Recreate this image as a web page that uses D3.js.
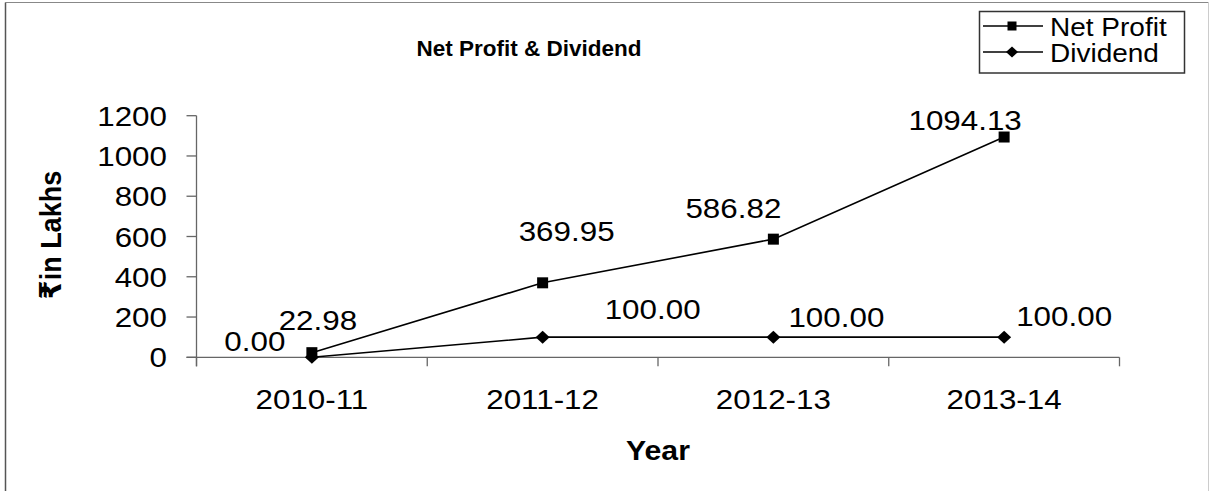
<!DOCTYPE html>
<html>
<head>
<meta charset="utf-8">
<script src="https://cdn.jsdelivr.net/npm/d3@7"></script>
<style>
  body { margin: 0; background: #fff; }
  text { font-family: "Liberation Sans", Arial, "DejaVu Sans", sans-serif; fill: #000; }
</style>
</head>
<body>
<div id="chart"></div>
<script>
// === DATA ===
const years = ["2010-11", "2011-12", "2012-13", "2013-14"];
const netProfit = [22.98, 369.95, 586.82, 1094.13];
const dividend = [0.00, 100.00, 100.00, 100.00];
const yTicks = [0, 200, 400, 600, 800, 1000, 1200];

// label offsets (px) from each point: [dx to label centre, dy to baseline]
const profitLabelOffsets = [[6, -23], [24, -42], [-40, -21], [-39, -7]];
const dividendLabelOffsets = [[-57, -6], [110, -18], [63, -10], [60, -11]];

const width = 1209, height = 491;
const sx = 1.12; // the picture is a little wider than tall

const svg = d3.select("#chart").append("svg")
  .attr("width", width)
  .attr("height", height);

svg.append("rect").attr("width", width).attr("height", height).attr("fill", "#fff");

// outer frame (no bottom edge visible)
svg.append("line").attr("x1", 5.5).attr("y1", 2.5).attr("x2", 5.5).attr("y2", height)
  .attr("stroke", "#555").attr("stroke-width", 1.5);
svg.append("line").attr("x1", 5).attr("y1", 2.5).attr("x2", 1208.5).attr("y2", 2.5)
  .attr("stroke", "#888").attr("stroke-width", 1);
svg.append("line").attr("x1", 1208.5).attr("y1", 2.5).attr("x2", 1208.5).attr("y2", height)
  .attr("stroke", "#ccc").attr("stroke-width", 1);

const plot = { left: 196.5, right: 1119.5, top: 115.7, bottom: 357.3 };

const x = d3.scaleBand().domain(years).range([plot.left, plot.right]).padding(0);
const y = d3.scaleLinear().domain([0, 1200]).range([plot.bottom, plot.top]);

function stretched(sel, tx, ty) {
  return sel.attr("transform", `translate(${tx},${ty}) scale(${sx},1)`);
}

// === AXES ===
const axisColor = "#666";

svg.append("line")
  .attr("x1", plot.left).attr("x2", plot.left)
  .attr("y1", y(1200)).attr("y2", plot.bottom + 9)
  .attr("stroke", axisColor).attr("stroke-width", 1.3);

svg.append("line")
  .attr("x1", plot.left - 10).attr("x2", plot.right)
  .attr("y1", plot.bottom).attr("y2", plot.bottom)
  .attr("stroke", axisColor).attr("stroke-width", 1.3);

yTicks.forEach(t => {
  svg.append("line")
    .attr("x1", plot.left - 10).attr("x2", plot.left)
    .attr("y1", y(t)).attr("y2", y(t))
    .attr("stroke", axisColor).attr("stroke-width", 1.3);
  stretched(svg.append("text"), 167, y(t) + 10)
    .attr("text-anchor", "end")
    .attr("font-size", 28)
    .text(t);
});

const bandEdges = years.map(d => x(d)).concat([plot.right]);
bandEdges.forEach(e => {
  svg.append("line")
    .attr("x1", e).attr("x2", e)
    .attr("y1", plot.bottom).attr("y2", plot.bottom + 9)
    .attr("stroke", axisColor).attr("stroke-width", 1.3);
});

years.forEach(d => {
  stretched(svg.append("text"), x(d) + x.bandwidth() / 2, 409)
    .attr("text-anchor", "middle")
    .attr("font-size", 28)
    .text(d);
});

// axis titles
stretched(svg.append("text"), (plot.left + plot.right) / 2, 460)
  .attr("text-anchor", "middle")
  .attr("font-size", 27)
  .attr("font-weight", "bold")
  .text("Year");

svg.append("text")
  .attr("transform", `translate(61,235) rotate(-90) scale(1,${sx})`)
  .attr("text-anchor", "middle")
  .attr("font-size", 27)
  .attr("font-weight", "bold")
  .text("₹in Lakhs");

// chart title
svg.append("text")
  .attr("x", 529).attr("y", 56)
  .attr("text-anchor", "middle")
  .attr("font-size", 22.5)
  .attr("font-weight", "bold")
  .text("Net Profit & Dividend");

// === SERIES ===
const cx = d => x(d) + x.bandwidth() / 2;
const line = d3.line().x(d => cx(d[0])).y(d => y(d[1]));

const profitPts = years.map((d, i) => [d, netProfit[i]]);
const divPts = years.map((d, i) => [d, dividend[i]]);

svg.append("path").datum(profitPts)
  .attr("fill", "none").attr("stroke", "#000").attr("stroke-width", 1.6)
  .attr("d", line);

svg.append("path").datum(divPts)
  .attr("fill", "none").attr("stroke", "#000").attr("stroke-width", 1.6)
  .attr("d", line);

svg.selectAll(".sq").data(profitPts).join("rect")
  .attr("class", "sq")
  .attr("x", d => cx(d[0]) - 5.5)
  .attr("y", d => y(d[1]) - 5.5)
  .attr("width", 11).attr("height", 11)
  .attr("fill", "#000");

const diamond = (w, h) => `M0,${-h / 2}L${w / 2},0L0,${h / 2}L${-w / 2},0Z`;

svg.selectAll(".dm").data(divPts).join("path")
  .attr("class", "dm")
  .attr("transform", d => `translate(${cx(d[0])},${y(d[1])})`)
  .attr("d", diamond(14, 13))
  .attr("fill", "#000");

// data labels
profitPts.forEach((d, i) => {
  const [dx, dy] = profitLabelOffsets[i];
  stretched(svg.append("text"), cx(d[0]) + dx, y(d[1]) + dy)
    .attr("text-anchor", "middle")
    .attr("font-size", 28)
    .text(d[1].toFixed(2));
});

divPts.forEach((d, i) => {
  const [dx, dy] = dividendLabelOffsets[i];
  stretched(svg.append("text"), cx(d[0]) + dx, y(d[1]) + dy)
    .attr("text-anchor", "middle")
    .attr("font-size", 28)
    .text(d[1].toFixed(2));
});

// === LEGEND ===
const legend = svg.append("g");
legend.append("rect")
  .attr("x", 979.5).attr("y", 11.5)
  .attr("width", 205).attr("height", 61.5)
  .attr("fill", "#fff").attr("stroke", "#333").attr("stroke-width", 1.5);

const legendItems = [
  { label: "Net Profit", shape: "square" },
  { label: "Dividend", shape: "diamond" }
];

legendItems.forEach((item, i) => {
  const ly = 26 + i * 26;
  legend.append("line")
    .attr("x1", 983).attr("x2", 1043)
    .attr("y1", ly).attr("y2", ly)
    .attr("stroke", "#000").attr("stroke-width", 1.6);
  if (item.shape === "square") {
    legend.append("rect")
      .attr("x", 1012 - 4.5).attr("y", ly - 4.5)
      .attr("width", 9).attr("height", 9).attr("fill", "#000");
  } else {
    legend.append("path")
      .attr("transform", `translate(1012,${ly})`)
      .attr("d", diamond(12, 11)).attr("fill", "#000");
  }
  stretched(legend.append("text"), 1050, ly + 9.5)
    .attr("font-size", 25)
    .text(item.label);
});
</script>
</body>
</html>
